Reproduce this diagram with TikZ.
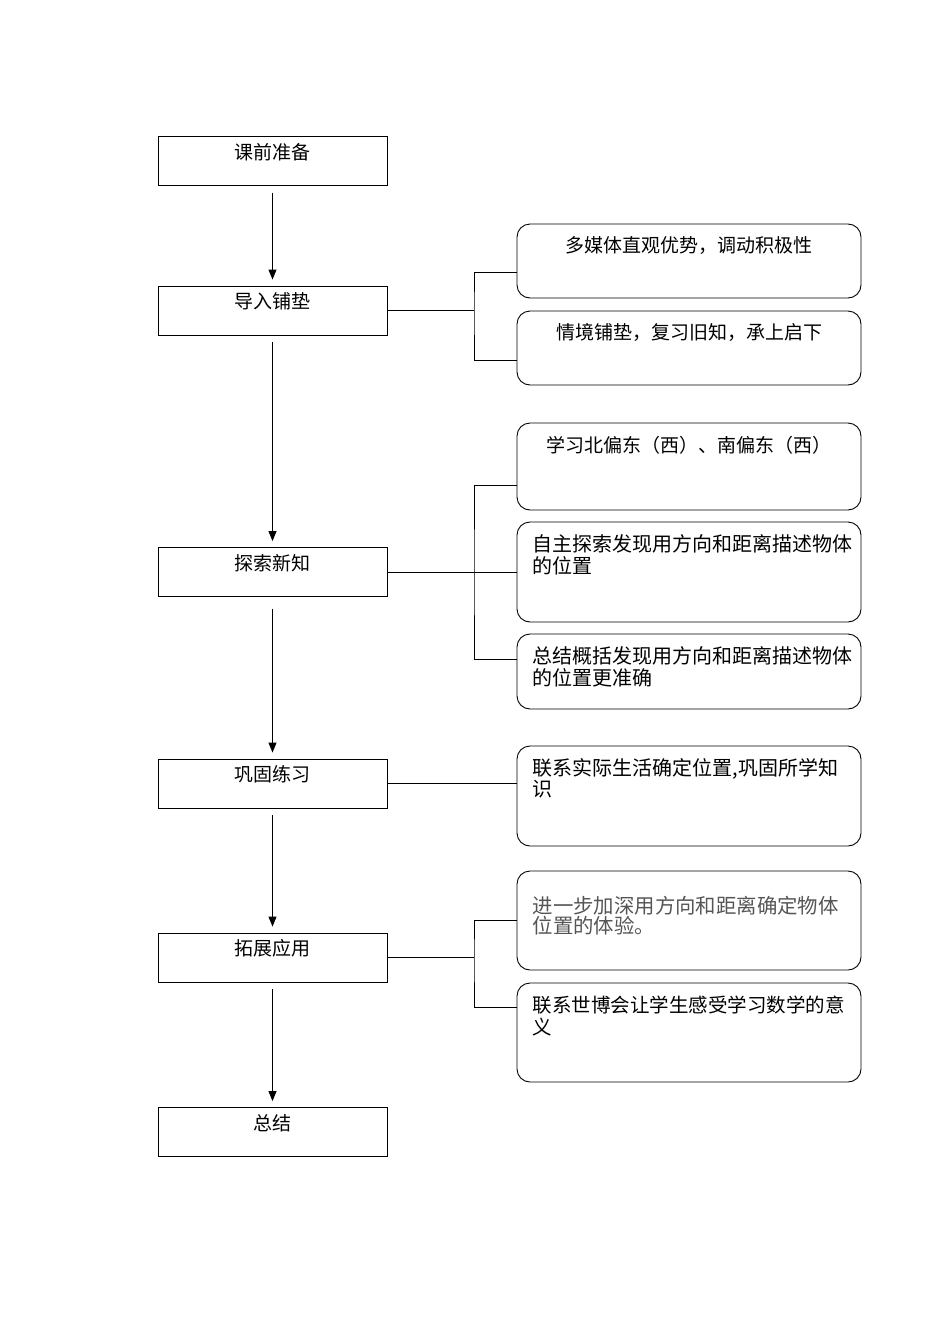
\documentclass[tikz,border=0pt]{standalone}
\usepackage{fontspec}
\newfontfamily\cjk{Noto Sans CJK SC}
\usetikzlibrary{arrows.meta}
\definecolor{softgray}{RGB}{85,85,85}
\begin{document}
\begin{tikzpicture}[x=1pt,y=-1pt,
  every node/.style={inner sep=0pt},
  lbox/.style={draw, line width=0.9pt, minimum width=229pt, minimum height=49pt},
  rbox/.style={draw, line width=0.9pt, rounded corners=13pt, minimum width=344pt},
  link/.style={line width=0.9pt},
  flow/.style={line width=0.9pt, -{Triangle[width=8pt,length=10pt]}, shorten >=6pt, shorten <=7pt},
  ltext/.style={anchor=north, font=\cjk\fontsize{19}{22}\selectfont, yshift=-7pt},
  ctext/.style={anchor=north, font=\cjk\fontsize{19}{22}\selectfont, yshift=-13pt},
  wtext/.style={anchor=north west, align=left, font=\cjk\fontsize{20}{22}\selectfont, xshift=16pt, yshift=-13pt}
]
\useasboundingbox (0,0) rectangle (950,1344);

% left column
\node[lbox, label={[ltext]north:课前准备}] (b1) at (272.5,161) {};
\node[lbox, label={[ltext]north:导入铺垫}] (b2) at (272.5,310.5) {};
\node[lbox, label={[ltext]north:探索新知}] (b3) at (272.5,572) {};
\node[lbox, label={[ltext]north:巩固练习}] (b4) at (272.5,783.5) {};
\node[lbox, label={[ltext]north:拓展应用}] (b5) at (272.5,957.5) {};
\node[lbox, label={[ltext]north:总结}] (b6) at (272.5,1132) {};

% right column
\node[rbox, minimum height=74pt, label={[ctext]north:多媒体直观优势，调动积极性}] (r1) at (689,261) {};
\node[rbox, minimum height=74pt, label={[ctext]north:情境铺垫，复习旧知，承上启下}] (r2) at (689,348) {};
\node[rbox, minimum height=87pt, label={[ctext]north:学习北偏东（西）、南偏东（西）}] (r3) at (689,466.5) {};
\node[rbox, minimum height=100pt, label={[wtext]north west:{自主探索发现用方向和距离描述物体\\的位置}}] (r4) at (689,572) {};
\node[rbox, minimum height=75pt, label={[wtext]north west:{总结概括发现用方向和距离描述物体\\的位置更准确}}] (r5) at (689,671.5) {};
\node[rbox, minimum height=100pt, label={[wtext, font=\cjk\fontsize{20}{20}\selectfont]north west:{联系实际生活确定位置,巩固所学知\\识}}] (r6) at (689,796) {};
\node[rbox, minimum height=99pt, label={[wtext, text=softgray, yshift=-12pt, font=\cjk\fontsize{20.4}{20}\selectfont]north west:{进一步加深用方向和距离确定物体\\位置的体验。}}] (r7) at (689,920.5) {};
\node[rbox, minimum height=99pt, label={[wtext, font=\cjk\fontsize{19.5}{22}\selectfont]north west:{联系世博会让学生感受学习数学的意\\义}}] (r8) at (689,1032.5) {};

% junction points
\coordinate (j2) at (474,310.5);
\coordinate (j3) at (474,572);
\coordinate (j5) at (474,957.5);

% flow arrows
\draw[flow] (b1.south) -- (b2.north);
\draw[flow] (b2.south) -- (b3.north);
\draw[flow, shorten <=12pt] (b3.south) -- (b4.north);
\draw[flow] (b4.south) -- (b5.north);
\draw[flow] (b5.south) -- (b6.north);

% branch connectors
\draw[link] (b2.east) -- (j2);
\draw[link] ([yshift=-11pt]r1.west) -| (j2) |- ([yshift=-12pt]r2.west);

\draw[link] (b3.east) -- (r4.west);
\draw[link] ([yshift=-18.5pt]r3.west) -| (j3) |- ([yshift=12.5pt]r5.west);

\draw[link] (b4.east) -- (r6.west |- b4.east);

\draw[link] (b5.east) -- (j5);
\draw[link] (r7.west) -| (j5) |- ([yshift=25.5pt]r8.west);
\end{tikzpicture}
\end{document}
